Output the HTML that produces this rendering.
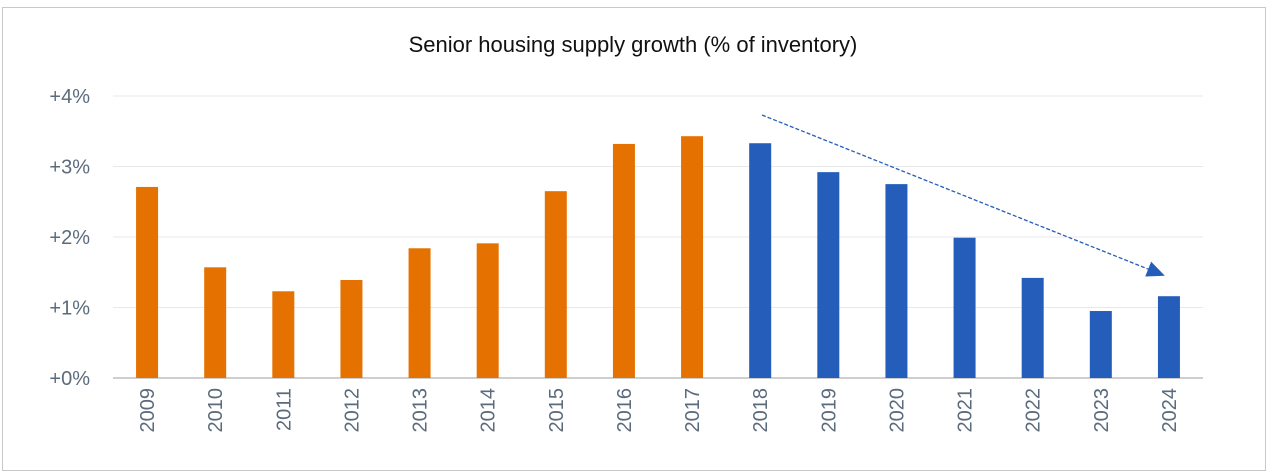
<!DOCTYPE html>
<html><head><meta charset="utf-8"><style>
body{margin:0;background:#fff;}
svg{display:block;font-family:"Liberation Sans",sans-serif;}
</style></head><body>
<svg id="chart" width="1272" height="474">
<rect x="2.5" y="7.5" width="1263" height="463" fill="#fff" stroke="#c8c8c8"/>
<text x="633" y="52" text-anchor="middle" font-size="22" fill="#111">Senior housing supply growth (% of inventory)</text>
<g id="grid"></g><g id="bars"></g><g id="labels"></g>
<defs><marker id="ah" markerWidth="18" markerHeight="16" refX="16" refY="8" orient="auto" markerUnits="userSpaceOnUse" viewBox="0 0 18 16"><path d="M0,0 L18,8 L0,16 z" fill="#245dba"/></marker></defs>
<line x1="762" y1="115" x2="1163" y2="275" stroke="#245dba" stroke-width="1.3" stroke-dasharray="4,2" marker-end="url(#ah)"/>
</svg>
<script>
const years=["2009","2010","2011","2012","2013","2014","2015","2016","2017","2018","2019","2020","2021","2022","2023","2024"];
const values=[2.71,1.57,1.23,1.39,1.84,1.91,2.65,3.32,3.43,3.33,2.92,2.75,1.99,1.42,0.95,1.16];
const yTicks=[0,1,2,3,4];
const yTickLabels=["+0%","+1%","+2%","+3%","+4%"];
const projectedFrom="2018";
const NS="http://www.w3.org/2000/svg";
const L=113,R=1203,Y0=378,PX=70.5;
const y=v=>Y0-v*PX;
const band=(R-L)/years.length;
const x=i=>L+band*(i+0.5);
function mk(t,a,p){const e=document.createElementNS(NS,t);for(const k in a)e.setAttribute(k,a[k]);p.appendChild(e);return e;}
const g=document.getElementById('grid'),b=document.getElementById('bars'),lb=document.getElementById('labels');
yTicks.forEach((t,i)=>{
 const ln=mk('line',{x1:L,x2:R,y1:y(t),y2:y(t),stroke:t===0?'#cfcfcf':'#e8e8e8','stroke-width':t===0?2:1},g);
 
 
 const tx=mk('text',{x:90,y:y(t)+7,'text-anchor':'end','font-size':20,fill:'#5b6b7c'},lb);
 tx.textContent=yTickLabels[i];
 
 
});
const pi=years.indexOf(projectedFrom);
years.forEach((yr,i)=>{
 const w=22;
 const r=mk('rect',{x:x(i)-w/2,y:y(values[i]),width:w,height:Y0-y(values[i]),fill:i>=pi?'#245dba':'#e57200'},b);
 
 
 const tx=mk('text',{x:0,y:0,'text-anchor':'end','font-size':20,fill:'#5b6b7c',transform:`translate(${x(i)+7},388) rotate(-90)`},lb);
 tx.textContent=yr;
 
 
});
</script>
</body></html>
